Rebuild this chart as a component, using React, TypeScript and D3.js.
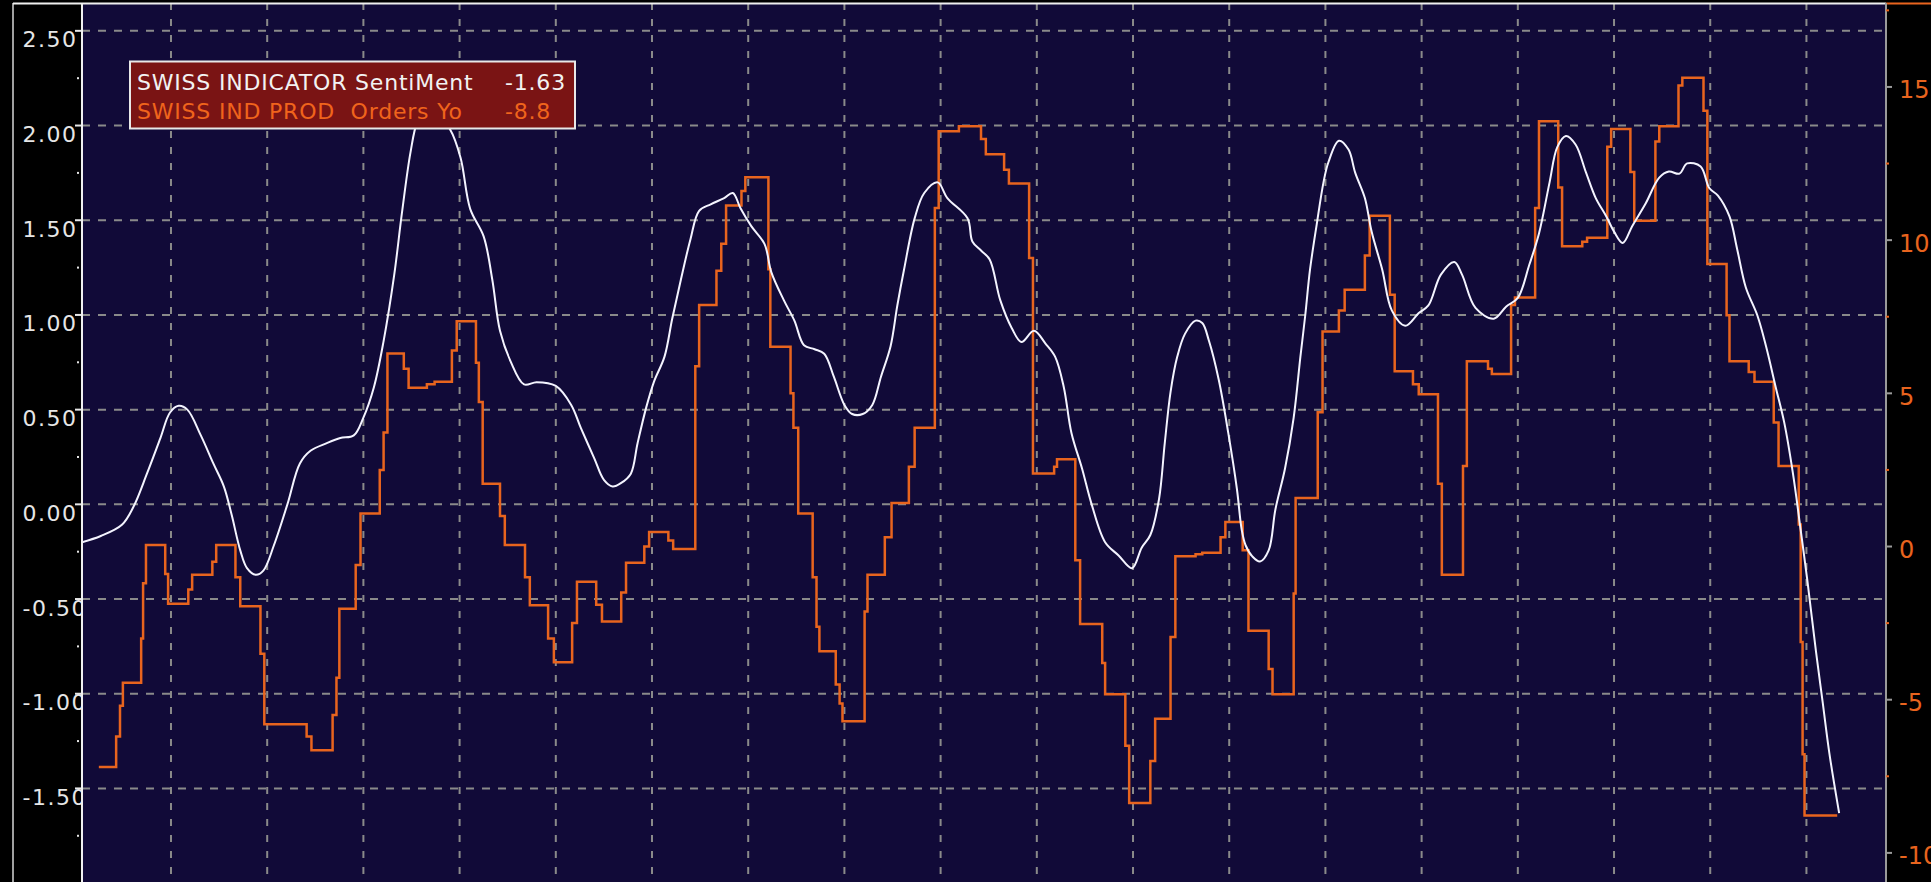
import React from 'react';
import * as d3 from 'd3';

// Swiss sentiment indicator (left axis) vs. industrial production orders YoY (right axis)
const sentiment: [number, number][] = [
  [1991.075, -0.2], [1991.27, -0.167], [1991.49, -0.108], [1991.61, -0.013], [1991.75, 0.162],
  [1991.89, 0.35], [1991.99, 0.485], [1992.08, 0.52], [1992.17, 0.5], [1992.31, 0.364],
  [1992.44, 0.216], [1992.55, 0.094], [1992.63, -0.054], [1992.72, -0.243], [1992.79, -0.337],
  [1992.88, -0.372], [1992.96, -0.35], [1993.07, -0.216], [1993.21, 0.0], [1993.34, 0.216],
  [1993.45, 0.283], [1993.62, 0.323], [1993.76, 0.35], [1993.9, 0.364], [1994.0, 0.458],
  [1994.11, 0.62], [1994.21, 0.862], [1994.32, 1.21], [1994.4, 1.536], [1994.49, 1.86],
  [1994.56, 2.02], [1994.65, 2.09], [1994.76, 2.06], [1994.9, 1.98], [1995.01, 1.83],
  [1995.11, 1.56], [1995.25, 1.415], [1995.34, 1.186], [1995.42, 0.916], [1995.53, 0.755],
  [1995.67, 0.633], [1995.8, 0.645], [1996.0, 0.625], [1996.16, 0.525], [1996.26, 0.404],
  [1996.4, 0.243], [1996.5, 0.129], [1996.59, 0.094], [1996.68, 0.113], [1996.78, 0.162],
  [1996.85, 0.323], [1996.94, 0.512], [1997.02, 0.647], [1997.13, 0.78], [1997.21, 0.98],
  [1997.3, 1.186], [1997.4, 1.4], [1997.49, 1.55], [1997.61, 1.584], [1997.75, 1.617],
  [1997.84, 1.644], [1997.92, 1.563], [1998.03, 1.47], [1998.17, 1.374], [1998.24, 1.226],
  [1998.37, 1.078], [1998.48, 0.97], [1998.58, 0.84], [1998.69, 0.819], [1998.79, 0.795],
  [1998.89, 0.674], [1999.0, 0.525], [1999.08, 0.477], [1999.19, 0.477], [1999.29, 0.525],
  [1999.38, 0.674], [1999.48, 0.835], [1999.55, 1.05], [1999.62, 1.24], [1999.73, 1.51],
  [1999.83, 1.644], [1999.97, 1.7], [2000.07, 1.617], [2000.28, 1.51], [2000.33, 1.388],
  [2000.42, 1.34], [2000.51, 1.293], [2000.62, 1.078], [2000.74, 0.93], [2000.84, 0.857],
  [2000.97, 0.916], [2001.09, 0.849], [2001.19, 0.78], [2001.28, 0.62], [2001.36, 0.377],
  [2001.47, 0.189], [2001.57, 0.0], [2001.71, -0.2], [2001.85, -0.27], [2001.99, -0.337],
  [2002.09, -0.229], [2002.18, -0.162], [2002.27, 0.027], [2002.33, 0.323], [2002.39, 0.593],
  [2002.46, 0.78], [2002.54, 0.9], [2002.65, 0.97], [2002.72, 0.957], [2002.79, 0.862],
  [2002.89, 0.66], [2002.99, 0.377], [2003.08, 0.081], [2003.13, -0.135], [2003.17, -0.216],
  [2003.24, -0.275], [2003.32, -0.302], [2003.41, -0.243], [2003.48, -0.027], [2003.58, 0.189],
  [2003.67, 0.458], [2003.74, 0.78], [2003.79, 0.997], [2003.84, 1.24], [2003.91, 1.48],
  [2003.98, 1.7], [2004.03, 1.805], [2004.14, 1.92], [2004.24, 1.873], [2004.31, 1.75],
  [2004.41, 1.617], [2004.48, 1.44], [2004.59, 1.24], [2004.69, 1.024], [2004.83, 0.943],
  [2004.97, 1.01], [2005.07, 1.05], [2005.2, 1.213], [2005.34, 1.28], [2005.42, 1.213],
  [2005.56, 1.037], [2005.75, 0.98], [2005.88, 1.045], [2006.0, 1.09], [2006.12, 1.266],
  [2006.22, 1.43], [2006.33, 1.7], [2006.41, 1.886], [2006.5, 1.945], [2006.6, 1.9],
  [2006.71, 1.75], [2006.81, 1.617], [2006.92, 1.52], [2007.0, 1.44], [2007.09, 1.38],
  [2007.19, 1.47], [2007.33, 1.59], [2007.47, 1.725], [2007.57, 1.757], [2007.68, 1.746],
  [2007.76, 1.8], [2007.9, 1.784], [2007.99, 1.67], [2008.08, 1.63], [2008.2, 1.52],
  [2008.28, 1.347], [2008.37, 1.145], [2008.49, 0.997], [2008.58, 0.835], [2008.68, 0.62],
  [2008.77, 0.43], [2008.86, 0.162], [2008.94, -0.135], [2009.01, -0.404], [2009.1, -0.78],
  [2009.17, -1.05], [2009.24, -1.32], [2009.34, -1.63],
];

// step series: value holds from its date until the next one
const orders: [number, number][] = [
  [1991.25, -7.2], [1991.43, -6.2], [1991.47, -5.2], [1991.5, -4.45],
  [1991.69, -3.0], [1991.71, -1.2], [1991.74, 0.05],
  [1991.94, -0.9], [1991.97, -1.87],
  [1992.18, -1.4], [1992.22, -0.92],
  [1992.43, -0.5], [1992.47, 0.05],
  [1992.67, -1.0], [1992.72, -1.95],
  [1992.93, -3.5], [1992.97, -5.8],
  [1993.41, -6.2], [1993.46, -6.65],
  [1993.68, -5.5], [1993.72, -4.28], [1993.75, -2.03],
  [1993.92, -0.6], [1993.97, 1.08],
  [1994.17, 2.5], [1994.21, 3.72], [1994.25, 6.3],
  [1994.42, 5.8], [1994.47, 5.18],
  [1994.66, 5.3], [1994.74, 5.38],
  [1994.92, 6.4], [1994.97, 7.35],
  [1995.17, 6.0], [1995.2, 4.72], [1995.24, 2.05],
  [1995.42, 1.0], [1995.47, 0.05],
  [1995.68, -1.0], [1995.73, -1.92],
  [1995.92, -3.0], [1995.98, -3.78],
  [1996.17, -2.5], [1996.22, -1.15],
  [1996.42, -1.9], [1996.48, -2.45],
  [1996.68, -1.5], [1996.73, -0.53],
  [1996.92, 0.0], [1996.97, 0.47],
  [1997.17, 0.2], [1997.22, -0.08],
  [1997.45, 5.88], [1997.49, 7.88],
  [1997.67, 9.0], [1997.72, 9.88], [1997.77, 11.13],
  [1997.93, 11.6], [1997.97, 12.05],
  [1998.21, 9.05], [1998.23, 6.52],
  [1998.44, 5.0], [1998.47, 3.88], [1998.52, 1.08],
  [1998.67, -1.0], [1998.71, -2.62], [1998.74, -3.42],
  [1998.91, -4.5], [1998.95, -5.12], [1998.98, -5.7],
  [1999.21, -2.12], [1999.24, -0.92],
  [1999.42, 0.3], [1999.49, 1.42],
  [1999.67, 2.6], [1999.73, 3.88],
  [1999.94, 11.05], [1999.98, 13.55],
  [2000.19, 13.72],
  [2000.42, 13.3], [2000.47, 12.8],
  [2000.66, 12.3], [2000.71, 11.85],
  [2000.92, 9.42], [2000.96, 2.38],
  [2001.18, 2.6], [2001.21, 2.85],
  [2001.4, -0.45], [2001.45, -2.53],
  [2001.68, -3.8], [2001.71, -4.82],
  [2001.92, -6.5], [2001.96, -8.37],
  [2002.18, -7.0], [2002.23, -5.62],
  [2002.39, -2.95], [2002.44, -0.32],
  [2002.65, -0.25], [2002.72, -0.2],
  [2002.91, 0.3], [2002.96, 0.8],
  [2003.14, -0.12], [2003.2, -2.75],
  [2003.41, -4.0], [2003.45, -4.82],
  [2003.67, -1.53], [2003.69, 1.58],
  [2003.92, 4.38], [2003.97, 7.02],
  [2004.14, 7.7], [2004.2, 8.38],
  [2004.41, 9.5], [2004.46, 10.8],
  [2004.67, 8.22], [2004.72, 5.72],
  [2004.91, 5.3], [2004.97, 4.97],
  [2005.17, 2.05], [2005.21, -0.92],
  [2005.43, 2.63], [2005.47, 6.05],
  [2005.69, 5.8], [2005.73, 5.63],
  [2005.93, 7.88], [2005.97, 8.13],
  [2006.18, 11.05], [2006.22, 13.88],
  [2006.42, 11.72], [2006.46, 9.8],
  [2006.67, 9.95], [2006.72, 10.08],
  [2006.93, 13.05], [2006.97, 13.63],
  [2007.17, 12.22], [2007.21, 10.63],
  [2007.43, 13.22], [2007.47, 13.72],
  [2007.67, 15.05], [2007.71, 15.3],
  [2007.93, 14.22], [2007.97, 9.22],
  [2008.17, 7.55], [2008.2, 6.05],
  [2008.4, 5.7], [2008.46, 5.38],
  [2008.66, 4.05], [2008.71, 2.63],
  [2008.92, 0.72], [2008.94, -3.12], [2008.96, -6.78], [2008.98, -8.78],
  [2009.32, -8.78],
];

const gridYears = d3.range(1992, 2010);
const leftTicks = [2.5, 2.0, 1.5, 1.0, 0.5, 0.0, -0.5, -1.0, -1.5];
const leftMinor = [2.25, 1.75, 1.25, 0.75, 0.25, -0.25, -0.75, -1.25, -1.75];
const rightTicks = [15, 10, 5, 0, -5, -10];
const rightMinor = [17.5, 12.5, 7.5, 2.5, -2.5, -7.5];

const legendRows = [
  { name: 'SWISS INDICATOR SentiMent', value: '-1.63', color: '#f2f2f2' },
  { name: 'SWISS IND PROD  Orders Yo', value: '-8.8', color: '#f0641c' },
];

const W = 1931;
const H = 882;
const L = 82, R = 1886, T = 3, B = 882;
const font = "'DejaVu Sans', Verdana, sans-serif";

export default function App() {
  const x = d3.scaleLinear().domain([1991.075, 2009.827]).range([L, R]);
  const yL = d3.scaleLinear().domain([-1.994, 2.647]).range([B, T]);
  const yR = d3.scaleLinear().domain([-10.95, 17.74]).range([B, T]);

  const whitePath = d3.line<[number, number]>()
    .x(d => x(d[0]))
    .y(d => yL(d[1]))
    .curve(d3.curveCatmullRom.alpha(0.5))(sentiment) || '';

  const orangePath = d3.line<[number, number]>()
    .x(d => x(d[0]))
    .y(d => yR(d[1]))
    .curve(d3.curveStepAfter)(orders) || '';

  return (
    <div style={{ position: 'absolute', left: 0, top: 0, width: W, height: H, background: '#000' }}>
      <svg width={W} height={H} style={{ display: 'block' }}>
        <defs>
          <clipPath id="plot">
            <rect x={L} y={T} width={R - L} height={B - T} />
          </clipPath>
        </defs>
        <rect x={0} y={0} width={W} height={H} fill="#000" />

        {/* left axis labels hang below their gridline; the plot covers any overflow */}
        {leftTicks.map(v => (
          <text key={v} x={22.5} y={yL(v) + 16.5} fill="#e6e6e6" fontFamily={font}
            fontSize={22} letterSpacing={1.5}>{v.toFixed(2)}</text>
        ))}
        {leftTicks.map(v => (
          <line key={'t' + v} x1={75} x2={L} y1={yL(v)} y2={yL(v)} stroke="#e6e6e6" strokeWidth={2} />
        ))}
        {leftMinor.map(v => (
          <rect key={'m' + v} x={77} y={yL(v) - 1} width={2} height={2} fill="#e6e6e6" />
        ))}

        <rect x={L} y={T} width={R - L} height={B - T} fill="#110a38" />

        <g clipPath="url(#plot)">
          {leftTicks.map(v => (
            <line key={'g' + v} x1={L} x2={R} y1={yL(v)} y2={yL(v)}
              stroke="#8a8a8a" strokeWidth={2} strokeDasharray="8 8" />
          ))}
          {gridYears.map(yr => (
            <line key={yr} x1={x(yr)} x2={x(yr)} y1={T} y2={B}
              stroke="#8a8a8a" strokeWidth={2} strokeDasharray="7 9" />
          ))}
          <path d={orangePath} fill="none" stroke="#e8641e" strokeWidth={2.5} />
          <path d={whitePath} fill="none" stroke="#f4f4ff" strokeWidth={2} />
        </g>

        {/* legend */}
        <rect x={130} y={61.5} width={445} height={67} fill="#7a1414" stroke="#e8e8e8" strokeWidth={2} />
        {legendRows.map((r, i) => (
          <g key={r.name} fontFamily={font} fontSize={22} fill={r.color} letterSpacing={0.8}>
            <text x={137} y={89.5 + i * 29} style={{ whiteSpace: 'pre' }}>{r.name}</text>
            <text x={505} y={89.5 + i * 29}>{r.value}</text>
          </g>
        ))}

        {/* frame */}
        <line x1={13} x2={13} y1={T} y2={H} stroke="#a0a0a0" strokeWidth={2} />
        <line x1={13} x2={R} y1={T + 0.5} y2={T + 0.5} stroke="#f0f0f0" strokeWidth={2} />
        <line x1={R} x2={W} y1={T + 0.5} y2={T + 0.5} stroke="#e8641e" strokeWidth={2} />
        <line x1={L} x2={L} y1={T} y2={B} stroke="#f0f0f0" strokeWidth={2} />
        <line x1={R} x2={R} y1={T} y2={B} stroke="#9a9a9a" strokeWidth={2} />

        {/* right axis */}
        {rightTicks.map(v => (
          <line key={'rt' + v} x1={R} x2={R + 6} y1={yR(v)} y2={yR(v)} stroke="#9a9a9a" strokeWidth={2} />
        ))}
        {rightMinor.map(v => (
          <line key={'rm' + v} x1={R} x2={R + 3} y1={yR(v)} y2={yR(v)} stroke="#e8641e" strokeWidth={2} />
        ))}
        {rightTicks.map(v => (
          <text key={'rl' + v} x={1899} y={yR(v) + 11.5} fill="#e8641e" fontFamily={font}
            fontSize={24}>{v}</text>
        ))}
      </svg>
    </div>
  );
}
